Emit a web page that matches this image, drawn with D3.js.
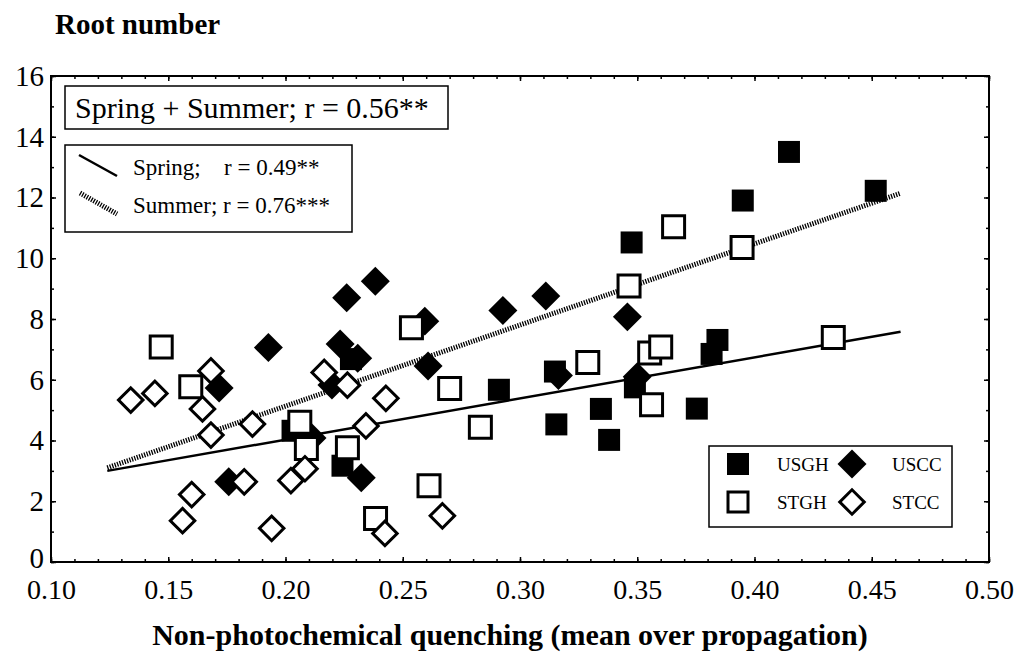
<!DOCTYPE html>
<html>
<head>
<meta charset="utf-8">
<script src="https://cdn.jsdelivr.net/npm/d3@7"></script>
<style>
  body { margin: 0; background: #fff; }
  text { font-family: "Liberation Serif", "Times New Roman", serif; fill: #000; }
</style>
</head>
<body>
<svg id="chart" width="1023" height="653"></svg>
<script>
// values: [NPQ, root number]
const usgh = [[0.203, 4.32], [0.2243, 3.17], [0.2279, 6.68], [0.291, 5.67], [0.3149, 6.27],
  [0.3155, 4.53], [0.3345, 5.04], [0.338, 4.02], [0.3476, 10.52], [0.349, 5.75],
  [0.3754, 5.05], [0.3817, 6.85], [0.3842, 7.31], [0.395, 11.9], [0.4147, 13.5], [0.4517, 12.22]];
const uscc = [[0.1717, 5.73], [0.1758, 2.64], [0.1927, 7.06], [0.2113, 4.08], [0.2198, 5.83],
  [0.2233, 7.18], [0.2261, 8.7], [0.2308, 6.71], [0.2323, 2.77], [0.2383, 9.24], [0.2594, 7.93],
  [0.2608, 6.45], [0.2927, 8.28], [0.311, 8.76], [0.3164, 6.14], [0.3458, 8.07], [0.35, 6.1]];
const stgh = [[0.147, 7.08], [0.1596, 5.77], [0.2061, 4.6], [0.2089, 3.74], [0.2264, 3.76],
  [0.2384, 1.43], [0.2537, 7.71], [0.2612, 2.51], [0.27, 5.71], [0.2831, 4.44], [0.3289, 6.57],
  [0.3465, 9.09], [0.3553, 6.88], [0.36, 7.08], [0.3561, 5.18], [0.3655, 11.04], [0.3947, 10.35], [0.4336, 7.39]];
const stcc = [[0.134, 5.33], [0.1443, 5.55], [0.1561, 1.36], [0.16, 2.22], [0.1646, 5.04],
  [0.1682, 6.29], [0.1682, 4.18], [0.1824, 2.64], [0.1859, 4.54], [0.1941, 1.11], [0.2023, 2.68],
  [0.2083, 3.07], [0.2165, 6.24], [0.2264, 5.82], [0.2343, 4.48], [0.2424, 0.94], [0.2428, 5.39], [0.2669, 1.52]];

// fitted lines, end points
const springLine = [[0.124, 3.0], [0.4623, 7.58]];
const summerLine = [[0.124, 3.1], [0.4623, 12.14]];

const xTicks = [0.10, 0.15, 0.20, 0.25, 0.30, 0.35, 0.40, 0.45, 0.50];
const yTicks = [0, 2, 4, 6, 8, 10, 12, 14, 16];

const svg = d3.select('#chart');
const plotL = 51, plotR = 989, plotT = 76, plotB = 562;

const x = d3.scaleLinear().domain([0.10, 0.50]).range([plotL, plotR]);
const y = d3.scaleLinear().domain([0, 16]).range([plotB, plotT]);

const xMinor = d3.range(0.10, 0.5001, 0.01);
const yMinor = d3.range(0, 16.01, 1);

// frame
svg.append('rect')
  .attr('x', plotL).attr('y', plotT)
  .attr('width', plotR - plotL).attr('height', plotB - plotT)
  .attr('fill', 'none').attr('stroke', '#000').attr('stroke-width', 2);

function tickAxis(axis, tx, ty, size, values) {
  const g = svg.append('g')
    .attr('transform', 'translate(' + tx + ',' + ty + ')')
    .call(axis.tickValues(values).tickSizeInner(-size).tickSizeOuter(0).tickFormat(''));
  g.select('.domain').remove();
  g.selectAll('line').attr('stroke-width', 1.5);
  return g;
}

// minor + major ticks, pointing inward on all four sides
tickAxis(d3.axisBottom(x), 0, plotB, 3, xMinor);
tickAxis(d3.axisTop(x), 0, plotT, 3, xMinor);
tickAxis(d3.axisLeft(y), plotL, 0, 3, yMinor);
tickAxis(d3.axisRight(y), plotR, 0, 3, yMinor);
tickAxis(d3.axisTop(x), 0, plotT, 5, xTicks);
tickAxis(d3.axisRight(y), plotR, 0, 5, yTicks);

const xAxis = svg.append('g')
  .attr('transform', 'translate(0,' + plotB + ')')
  .call(d3.axisBottom(x).tickValues(xTicks).tickSizeInner(-5).tickSizeOuter(0)
    .tickPadding(17).tickFormat(d3.format('.2f')))
  .attr('font-family', '"Liberation Serif", serif');
xAxis.select('.domain').remove();
xAxis.selectAll('line').attr('stroke-width', 1.5);
xAxis.selectAll('text').attr('font-size', 28);

const yAxis = svg.append('g')
  .attr('transform', 'translate(' + plotL + ',0)')
  .call(d3.axisLeft(y).tickValues(yTicks).tickSizeInner(-5).tickSizeOuter(0)
    .tickPadding(7).tickFormat(d3.format('d')))
  .attr('font-family', '"Liberation Serif", serif');
yAxis.select('.domain').remove();
yAxis.selectAll('line').attr('stroke-width', 1.5);
yAxis.selectAll('text').attr('font-size', 29);
// the zero label sits a little above the corner, clear of 0.10
yAxis.selectAll('.tick').filter(d => d === 0).select('text').attr('y', -4);

// titles
svg.append('text')
  .attr('x', 55).attr('y', 34)
  .attr('font-size', 29).attr('font-weight', 'bold')
  .text('Root number');

svg.append('text')
  .attr('x', 510).attr('y', 645)
  .attr('text-anchor', 'middle')
  .attr('font-size', 30).attr('font-weight', 'bold')
  .text('Non-photochemical quenching (mean over propagation)');

// regression lines
const line = d3.line().x(d => x(d[0])).y(d => y(d[1]));

svg.append('path')
  .datum(summerLine)
  .attr('d', line)
  .attr('fill', 'none').attr('stroke', '#000')
  .attr('stroke-width', 5).attr('stroke-dasharray', '1.3,1.3');

svg.append('path')
  .datum(springLine)
  .attr('d', line)
  .attr('fill', 'none').attr('stroke', '#000')
  .attr('stroke-width', 2.5);

// markers
const square = d3.symbol().type(d3.symbolSquare);

function drawPoints(data, size, rotate, fill, strokeW) {
  svg.append('g').selectAll('path')
    .data(data)
    .enter().append('path')
    .attr('d', square.size(size)())
    .attr('transform', d => 'translate(' + x(d[0]) + ',' + y(d[1]) + ')' + (rotate ? ' rotate(45)' : ''))
    .attr('fill', fill)
    .attr('stroke', '#000')
    .attr('stroke-width', strokeW);
}

drawPoints(usgh, 484, false, '#000', 0);
drawPoints(uscc, 420, true, '#000', 0);
drawPoints(stgh, 484, false, '#fff', 3);
drawPoints(stcc, 300, true, '#fff', 3);

// legend: combined r
const leg1 = svg.append('g');
leg1.append('rect')
  .attr('x', 65).attr('y', 86).attr('width', 383).attr('height', 43)
  .attr('fill', '#fff').attr('stroke', '#000').attr('stroke-width', 1.5);
leg1.append('text')
  .attr('x', 75).attr('y', 118)
  .attr('font-size', 30)
  .text('Spring + Summer; r = 0.56**');

// legend: seasons
const leg2 = svg.append('g');
leg2.append('rect')
  .attr('x', 65).attr('y', 145).attr('width', 287).attr('height', 87)
  .attr('fill', '#fff').attr('stroke', '#000').attr('stroke-width', 1.5);
leg2.append('line')
  .attr('x1', 79).attr('y1', 155).attr('x2', 117).attr('y2', 176)
  .attr('stroke', '#000').attr('stroke-width', 2.5);
leg2.append('line')
  .attr('x1', 80).attr('y1', 193).attr('x2', 117).attr('y2', 214)
  .attr('stroke', '#000').attr('stroke-width', 5).attr('stroke-dasharray', '1.3,1.3');
leg2.append('text').attr('x', 133).attr('y', 175).attr('font-size', 23).text('Spring;');
leg2.append('text').attr('x', 224).attr('y', 175).attr('font-size', 23).text('r = 0.49**');
leg2.append('text').attr('x', 133).attr('y', 213).attr('font-size', 23).text('Summer; r = 0.76***');

// legend: groups
const groups = [
  {name: 'USGH', col: 0, row: 0, rotate: false, fill: '#000', size: 484, sw: 0},
  {name: 'USCC', col: 1, row: 0, rotate: true, fill: '#000', size: 420, sw: 0},
  {name: 'STGH', col: 0, row: 1, rotate: false, fill: '#fff', size: 400, sw: 3},
  {name: 'STCC', col: 1, row: 1, rotate: true, fill: '#fff', size: 300, sw: 3}
];
const leg3 = svg.append('g');
leg3.append('rect')
  .attr('x', 709).attr('y', 446).attr('width', 243).attr('height', 81)
  .attr('fill', '#fff').attr('stroke', '#000').attr('stroke-width', 1.5);
groups.forEach(function(g) {
  const mx = 738 + g.col * 114, my = 464 + g.row * 38;
  leg3.append('path')
    .attr('d', square.size(g.size)())
    .attr('transform', 'translate(' + mx + ',' + my + ')' + (g.rotate ? ' rotate(45)' : ''))
    .attr('fill', g.fill).attr('stroke', '#000').attr('stroke-width', g.sw);
  leg3.append('text')
    .attr('x', 777 + g.col * 115).attr('y', my + 7)
    .attr('font-size', 19)
    .text(g.name);
});
</script>
</body>
</html>
